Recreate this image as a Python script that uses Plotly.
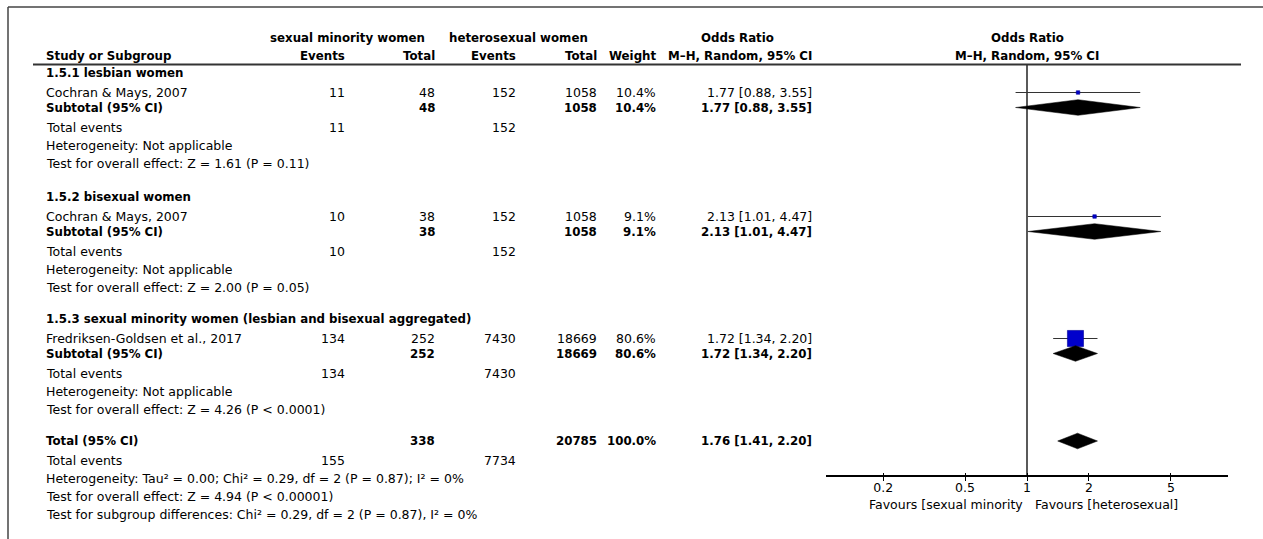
import plotly.graph_objects as go

W, H = 1263, 539

# ---------------- data ----------------
subgroups = ["1.5.1 lesbian women", "1.5.2 bisexual women",
             "1.5.3 sexual minority women (lesbian and bisexual aggregated)"]
studies = ["Cochran & Mays, 2007", "Cochran & Mays, 2007", "Fredriksen-Goldsen et al., 2017"]
events_smw = [11, 10, 134]
total_smw = [48, 38, 252]
events_het = [152, 152, 7430]
total_het = [1058, 1058, 18669]
weights = [10.4, 9.1, 80.6]
or_est = [1.77, 2.13, 1.72]
ci_lo = [0.88, 1.01, 1.34]
ci_hi = [3.55, 4.47, 2.20]
sub_tests = ["Test for overall effect: Z = 1.61 (P = 0.11)",
             "Test for overall effect: Z = 2.00 (P = 0.05)",
             "Test for overall effect: Z = 4.26 (P < 0.0001)"]

overall_total_smw = 338
overall_total_het = 20785
overall_events_smw = 155
overall_events_het = 7734
overall_weight = 100.0
overall_or = 1.76
overall_lo = 1.41
overall_hi = 2.20
overall_notes = ["Heterogeneity: Tau² = 0.00; Chi² = 0.29, df = 2 (P = 0.87); I² = 0%",
                 "Test for overall effect: Z = 4.94 (P < 0.00001)",
                 "Test for subgroup differences: Chi² = 0.29, df = 2 (P = 0.87), I² = 0%"]

tick_vals = [0.2, 0.5, 1, 2, 5]
tick_text = ["0.2", "0.5", "1", "2", "5"]
favours_left = "Favours [sexual minority"
favours_right = "Favours [heterosexual]"

# ---------------- layout helpers ----------------
FONT = "DejaVu Sans"
FS = 12.5
FSB = 11.8
group_header_y = [73, 197, 319]
total_row_y = 441
axis_y = 476
BLUE = "#0000CC"

# column right edges (pixels)
X_NAME = 44
X_EV1, X_TOT1, X_EV2, X_TOT2, X_W, X_OR = 347, 437, 518, 599, 658, 814
X_FOREST_C = 1027

annotations = []


def txt(x, y, s, anchor="right", bold=False):
    annotations.append(dict(
        x=x / W, y=y, xref="paper", yref="y", text=("<b>%s</b>" % s) if bold else s,
        xanchor=anchor, yanchor="middle", showarrow=False,
        font=dict(family=FONT, size=FSB if bold else FS, color="black")))


def fmt_or(e, l, h):
    return "%.2f [%.2f, %.2f]" % (e, l, h)


# headers
txt(347, 38, "sexual minority women", "center", True)
txt(518, 38, "heterosexual women", "center", True)
txt(738, 38, "Odds Ratio", "center", True)
txt(X_FOREST_C, 38, "Odds Ratio", "center", True)
txt(X_NAME, 56, "Study or Subgroup", "left", True)
txt(X_EV1, 56, "Events", bold=True)
txt(X_TOT1, 56, "Total", bold=True)
txt(X_EV2, 56, "Events", bold=True)
txt(X_TOT2, 56, "Total", bold=True)
txt(X_W, 56, "Weight", bold=True)
txt(X_OR, 56, "M–H, Random, 95% CI", bold=True)
txt(X_FOREST_C, 56, "M–H, Random, 95% CI", "center", True)

fig = go.Figure()

study_y = []
subtotal_y = []
for i, h in enumerate(group_header_y):
    ys, yt = h + 19.5, h + 34.5
    study_y.append(ys)
    subtotal_y.append(yt)
    txt(X_NAME, h, subgroups[i], "left", True)
    txt(X_NAME, ys, studies[i], "left")
    txt(X_EV1, ys, str(events_smw[i]))
    txt(X_TOT1, ys, str(total_smw[i]))
    txt(X_EV2, ys, str(events_het[i]))
    txt(X_TOT2, ys, str(total_het[i]))
    txt(X_W, ys, "%.1f%%" % weights[i])
    txt(X_OR, ys, fmt_or(or_est[i], ci_lo[i], ci_hi[i]))
    txt(X_NAME, yt, "Subtotal (95% CI)", "left", True)
    txt(X_TOT1, yt, str(total_smw[i]), bold=True)
    txt(X_TOT2, yt, str(total_het[i]), bold=True)
    txt(X_W, yt, "%.1f%%" % weights[i], bold=True)
    txt(X_OR, yt, fmt_or(or_est[i], ci_lo[i], ci_hi[i]), bold=True)
    txt(X_NAME, h + 54.5, "Total events", "left")
    txt(X_EV1, h + 54.5, str(events_smw[i]))
    txt(X_EV2, h + 54.5, str(events_het[i]))
    txt(X_NAME, h + 72.5, "Heterogeneity: Not applicable", "left")
    txt(X_NAME, h + 90.5, sub_tests[i], "left")

# overall
ty = total_row_y
txt(X_NAME, ty, "Total (95% CI)", "left", True)
txt(X_TOT1, ty, str(overall_total_smw), bold=True)
txt(X_TOT2, ty, str(overall_total_het), bold=True)
txt(X_W, ty, "%.1f%%" % overall_weight, bold=True)
txt(X_OR, ty, fmt_or(overall_or, overall_lo, overall_hi), bold=True)
txt(X_NAME, ty + 19, "Total events", "left")
txt(X_EV1, ty + 19, str(overall_events_smw))
txt(X_EV2, ty + 19, str(overall_events_het))
for k, note in enumerate(overall_notes):
    txt(X_NAME, ty + 37 + 18 * k, note, "left")

# favours labels
txt(1025, 504, favours_left, "right")
txt(1033, 504, favours_right, "left")

# ---------------- forest marks ----------------
# null line
fig.add_trace(go.Scatter(x=[1, 1], y=[65, axis_y], mode="lines",
                         line=dict(color="black", width=1.3), hoverinfo="skip"))
# CI lines
for i in range(3):
    fig.add_trace(go.Scatter(x=[ci_lo[i], ci_hi[i]], y=[study_y[i], study_y[i]], mode="lines",
                             line=dict(color="#333333", width=1.2), hoverinfo="skip"))
# squares
fig.add_trace(go.Scatter(x=or_est, y=study_y, mode="markers",
                         marker=dict(symbol="square", color=BLUE, opacity=1,
                                     size=[max(3.5, w * 0.2) for w in weights],
                                     line=dict(width=0.6, color="#000099")),
                         hoverinfo="skip"))

# diamonds
DH = 7.8


def diamond(e, l, h, y):
    fig.add_trace(go.Scatter(x=[l, e, h, e, l], y=[y, y - DH, y, y + DH, y], mode="lines",
                             fill="toself", fillcolor="black",
                             line=dict(color="black", width=0.5), hoverinfo="skip"))


for i in range(3):
    diamond(or_est[i], ci_lo[i], ci_hi[i], subtotal_y[i])
diamond(overall_or, overall_lo, overall_hi, total_row_y)

# ---------------- axes / frame ----------------
x0p, x1p = 826, 1228
ppd = 205.8
lo_log = (x0p - X_FOREST_C) / ppd
hi_log = (x1p - X_FOREST_C) / ppd
pos = 1 - axis_y / H
xdom = [x0p / W, x1p / W]

common = dict(type="log", range=[lo_log, hi_log], domain=xdom, anchor="free", position=pos,
              showgrid=False, zeroline=False, tickvals=tick_vals, fixedrange=True)

fig.update_layout(
    width=W, height=H, margin=dict(l=0, r=0, t=0, b=0),
    paper_bgcolor="white", plot_bgcolor="rgba(0,0,0,0)", showlegend=False,
    xaxis=dict(**common, showline=True, linecolor="black", linewidth=1.5,
               ticks="", ticktext=tick_text,
               tickfont=dict(family=FONT, size=FS, color="black")),
    xaxis2=dict(**common, overlaying="x", showline=False, showticklabels=False,
                ticks="outside", ticklen=4, tickwidth=1.2, tickcolor="black"),
    xaxis3=dict(**common, overlaying="x", showline=False, showticklabels=False,
                ticks="inside", ticklen=3, tickwidth=1.2, tickcolor="black"),
    yaxis=dict(range=[H, 0], domain=[0, 1], visible=False, fixedrange=True),
    annotations=annotations,
    shapes=[
        dict(type="line", xref="paper", yref="paper", x0=8 / W, x1=1, y0=1 - 7 / H, y1=1 - 7 / H,
             line=dict(color="#444444", width=1.5)),
        dict(type="line", xref="paper", yref="paper", x0=8 / W, x1=8 / W, y0=0, y1=1 - 7 / H,
             line=dict(color="#444444", width=1.5)),
        dict(type="line", xref="paper", yref="paper", x0=33 / W, x1=1241 / W,
             y0=1 - 64.5 / H, y1=1 - 64.5 / H, line=dict(color="#333333", width=2)),
    ],
)
# invisible traces so that the tick-only axes are drawn
for ax in ["x2", "x3"]:
    fig.add_trace(go.Scatter(x=[1], y=[-100], xaxis=ax, mode="markers",
                             marker=dict(opacity=0), hoverinfo="skip"))

fig.write_html("out.html", config={"displayModeBar": False},
               post_script="document.body.style.margin='0';")
